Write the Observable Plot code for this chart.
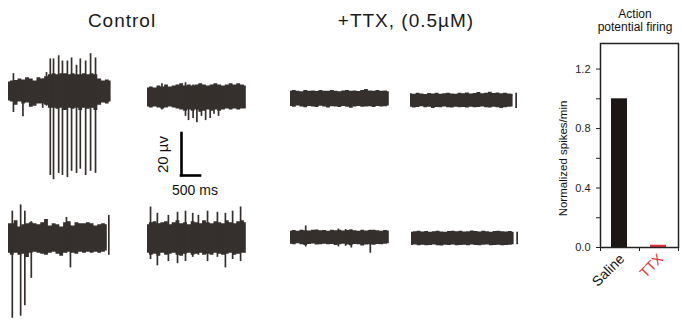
<!DOCTYPE html>
<html><head><meta charset="utf-8">
<script src="https://cdn.jsdelivr.net/npm/d3@7"></script>
<script src="https://cdn.jsdelivr.net/npm/@observablehq/plot@0.6"></script>
<style>
html,body{margin:0;padding:0;background:#fff;}
#fig{position:relative;width:682px;height:320px;overflow:hidden;font-family:"Liberation Sans",Arial,Helvetica,sans-serif;color:#1a1a1a;}
.abs{position:absolute;}
.title{font-size:19px;letter-spacing:1px;line-height:19px;text-align:center;white-space:nowrap;}
</style></head><body><div id="fig"></div>
<script>
// ---------------- DATA ----------------
const STEP_MS = 100;              // sampling step of the envelope arrays (ms)
const scaleBarUV = 20, scaleBarMS = 500;

// Control, top-left
const ctrlA_hi = [4.5,5,5.2,6,5.5,6.5,6,5,6.5,6,7,8,8.5,8,8.5,8.5,8,8.5,8,8,8.5,8,8.5,8,6,5,5.5,5];
const ctrlA_lo = [-4.5,-5,-6.5,-5,-6,-5.5,-7.5,-7,-6,-6,-6.5,-8,-8,-8.5,-8,-9,-8,-8.5,-8,-9,-8,-8.5,-8,-9,-6.5,-5.5,-6,-5];
const ctrlA_spikes = [[130,-10,8.5],[380,-12,5],[900,-8,6],[1000,-7,9],
  [1100,-40,15.5],[1185,-42,15.5],[1320,-39,17],[1420,-40,14.5],[1550,-41,14.5],[1660,-38,16],
  [1790,-39,12.5],[1890,-37,15.5],[2030,-40,14.5],[2160,-38,18],[2290,-39,16]];
// Control, top-right
const ctrlB_hi = [4.5,5,4.5,5.5,5,6,5,5.5,6,6.5,5.5,6,5.5,6,6.5,6,5.5,6,6.5,6,5.5,6,6.5,6,6.5,6,5.5];
const ctrlB_lo = [-4.5,-5,-4.5,-5,-5.5,-5,-4.5,-5,-5.5,-6,-6.5,-6,-6.5,-6,-7,-6.5,-6,-6.5,-6,-6.5,-6,-5.5,-6,-5.5,-6,-5.5,-5.5];
const ctrlB_spikes = [[380,-6,6.5],[1000,-9,7],[1080,-11,5],[1200,-10,6],[1300,-12,5],[1420,-9,6],[1530,-11,5],[1650,-10,5],[1750,-8,6],[1870,-9,5]];
// TTX, top-left
const ttxA_hi = [3.5,3.8,3.5,3.2,3.8,3.5,3.6,3.3,3.8,3.5,3.4,3.8,3.5,3.2,3.6,3.8,3.4,3.6,3.3,3.8,4.3,3.6,3.4,3.8,3.5,3.6,3.2];
const ttxA_lo = [-3.8,-4.2,-3.6,-4,-4.4,-3.8,-4,-4.3,-3.7,-4.1,-4.5,-3.9,-4,-4.3,-3.8,-4.2,-4.6,-4,-3.8,-4.2,-4,-3.9,-4.3,-3.8,-4.1,-3.9,-3.6];
const ttxA_spikes = [];
// TTX, top-right
const ttxB_hi = [3.2,3,3.4,3.1,2.8,3.3,3.1,3.4,3,3.2,3.5,3.1,3,3.4,3.2,3.6,3.1,3.3,3.8,3.2,3.5,3.9,3.3,3.6,3.2,3.5,3.1,3];
const ttxB_lo = [-3.2,-3.6,-3.3,-3,-3.5,-3.2,-3.8,-3.3,-3.4,-3.1,-3.5,-3.6,-3.2,-3.4,-3.3,-3.6,-3.2,-3.5,-3.3,-3.1,-3.4,-3.6,-3.2,-3.5,-3.8,-3.4,-3.2,-3.1];
const ttxB_spikes = [[2780,-3.8,3.5]];
// Control, bottom-left
const ctrlC_hi = [7,7,8.5,5.5,6.5,7,7.5,7,6.5,7.5,9,6,7,6.5,5.5,7.5,8,6,7.5,7,7,7.5,7,6,6.5,7,6.5];
const ctrlC_lo = [-7,-8,-7,-8,-7.5,-9,-7,-6.5,-7,-7.5,-8,-7,-6.5,-7.5,-8.5,-7,-6.5,-7,-7.5,-6.5,-7,-6.5,-7,-6.5,-7,-6.5,-6];
const ctrlC_spikes = [[100,-38,13],[320,-37,16],[430,-32,13],[600,-19,8],[1525,-7,10],[1630,-14,6],[2640,-8,11]];
// Control, bottom-right
const ctrlD_hi = [6.5,7.5,8,7,7.5,8,6.5,7.5,8.5,7,7.5,6.5,8,7.5,7,8.5,7.5,7,8,7.5,7,8.5,7.5,7,8,8.5,7.5];
const ctrlD_lo = [-7,-8,-7.5,-8.5,-7,-8,-7.5,-7,-8,-8.5,-7.5,-7,-8,-7.5,-7,-8,-7.5,-8,-7,-7.5,-8,-7.5,-7,-8,-7.5,-7,-7];
const ctrlD_spikes = [[80,-10,15],[260,-13,12],[550,-11,11],[790,-12,12.5],[1000,-11,13],[1190,-9,12],[1340,-8,11],[1580,-11,13],[1840,-9,12.5],[2050,-14,12],[2240,-10,13],[2450,-11,15]];
// TTX, bottom-left
const ttxC_hi = [3,3.3,3,3.5,3.2,3.1,3.4,3.6,3.2,3.3,3,3.4,3.2,3.5,3.1,3.3,3.6,3.2,3,3.4,3.1,3.3,3.5,3.2,3,3.3,3.1];
const ttxC_lo = [-3.2,-3.5,-3,-3.4,-3.8,-3.3,-3.1,-3.6,-3.4,-3.2,-3.5,-3.3,-3.8,-3.4,-3.2,-3.6,-3.9,-3.3,-3.5,-4,-3.6,-3.4,-3.7,-3.3,-3.5,-3.2,-3];
const ttxC_spikes = [[400,-4.5,5.5],[1260,-4.5,4],[1450,-4.2,3.8],[1600,-5,3.6],[2100,-7.5,3.5]];
// TTX, bottom-right
const ttxD_hi = [3,3.2,3.5,3.1,3.3,3,3.2,3.4,3.1,3,3.3,3.5,3.2,3.4,3.1,3.2,3.6,3.3,3.1,3.4,3.2,3,3.3,3.5,3.2,3.1,3.3,3];
const ttxD_lo = [-3.3,-3.1,-3.4,-3.2,-3.5,-3.3,-3.1,-3.4,-3.6,-3.2,-3.3,-3.1,-3.5,-3.3,-3.2,-3.4,-3.1,-3.3,-3.5,-3.2,-3.1,-3.4,-3.3,-3.2,-3.5,-3.3,-3.2,-3];
const ttxD_spikes = [[2780,-3,3]];

// Bar chart
const groups = ["Saline", "TTX"];
const spikesPerMin = [1.0, 0.015];
const yTicks = [0, 0.2, 0.4, 0.6, 0.8, 1.0, 1.2];

// ---------------- STYLE / LAYOUT ----------------
const TRACE = "#35302d";
const barFill = ["#1c1714", "#e52d3c"];
const labelFill = ["#111111", "#e8343f"];
const MS_PER_PX = 500 / 19, PX_PER_UV = 42 / 20;
const TW = 124, TH = 200, TB = 100;
const traces = [
  {hi: ctrlA_hi, lo: ctrlA_lo, sp: ctrlA_spikes, left: 8,   base: 91},
  {hi: ctrlB_hi, lo: ctrlB_lo, sp: ctrlB_spikes, left: 147, base: 97},
  {hi: ttxA_hi,  lo: ttxA_lo,  sp: ttxA_spikes,  left: 290, base: 97.5},
  {hi: ttxB_hi,  lo: ttxB_lo,  sp: ttxB_spikes,  left: 410, base: 99.5},
  {hi: ctrlC_hi, lo: ctrlC_lo, sp: ctrlC_spikes, left: 8,   base: 238},
  {hi: ctrlD_hi, lo: ctrlD_lo, sp: ctrlD_spikes, left: 147, base: 238},
  {hi: ttxC_hi,  lo: ttxC_lo,  sp: ttxC_spikes,  left: 290, base: 236.5},
  {hi: ttxD_hi,  lo: ttxD_lo,  sp: ttxD_spikes,  left: 411, base: 237.5}
];

const fig = document.getElementById("fig");
function place(el, left, top) {
  const d = document.createElement("div");
  d.className = "abs"; d.style.left = left + "px"; d.style.top = top + "px";
  d.appendChild(el); fig.appendChild(d); return d;
}
const svgStyle = {background: "transparent", overflow: "visible", fontFamily: "'Liberation Sans', Arial, sans-serif"};

function tracePlot(hi, lo, spikes) {
  const band = hi.map((h, i) => ({t: i * STEP_MS, hi: h, lo: lo[i]}));
  const sp = spikes.map(([t, l, h]) => ({t, lo: l, hi: h}));
  return Plot.plot({
    width: TW, height: TH, margin: 0,
    x: {domain: [0, TW * MS_PER_PX], axis: null},
    y: {domain: [-(TH - TB) / PX_PER_UV, TB / PX_PER_UV], axis: null},
    style: svgStyle,
    marks: [
      Plot.areaY(band, {x: "t", y1: "lo", y2: "hi", curve: "step", fill: TRACE}),
      Plot.ruleX(sp, {x: "t", y1: "lo", y2: "hi", stroke: TRACE, strokeWidth: 1.7})
    ]
  });
}
for (const tr of traces) place(tracePlot(tr.hi, tr.lo, tr.sp), tr.left, tr.base - TB);

// scale bar
const sb = Plot.plot({
  width: 80, height: 80, margin: 0,
  x: {domain: [-31 * MS_PER_PX, 49 * MS_PER_PX], axis: null},
  y: {domain: [-25 / PX_PER_UV, 55 / PX_PER_UV], axis: null},
  style: svgStyle,
  marks: [
    Plot.ruleX([0], {y1: 0, y2: scaleBarUV, stroke: "#000", strokeWidth: 2.6, strokeLinecap: "square"}),
    Plot.ruleY([0], {x1: 0, x2: scaleBarMS, stroke: "#000", strokeWidth: 2.6, strokeLinecap: "square"}),
    Plot.text([`${scaleBarMS} ms`], {x: scaleBarMS / 2, y: 0, dx: 4, dy: 15.5, fontSize: 14, fill: "#111"}),
    Plot.text([`${scaleBarUV} µv`], {x: 0, y: scaleBarUV / 2, dx: -18, rotate: -90, fontSize: 15, fill: "#111"})
  ]
});
place(sb, 150, 120);

// bar chart
const barData = groups.map((g, i) => ({g, i, v: spikesPerMin[i], fill: barFill[i], lab: labelFill[i]}));
const bars = Plot.plot({
  width: 142, height: 282,
  marginLeft: 60, marginRight: 4, marginTop: 5, marginBottom: 73,
  x: {domain: [0, 2]},
  y: {domain: [0, 1.372]},
  color: {type: "identity"},
  style: {...svgStyle, fontSize: "11px", color: "#222"},
  marks: [
    Plot.rect(barData, {x1: "i", x2: d => d.i + 1, y1: 0, y2: "v", fill: "fill", insetLeft: 11, insetRight: 12}),
    Plot.frame({stroke: "#222", strokeWidth: 1.5}),
    Plot.axisY({ticks: yTicks, tickSize: 4, tickPadding: 6, label: null,
      tickFormat: d => (Math.round(d * 10) % 4 === 0 ? d.toFixed(1) : "")}),
    Plot.axisX({ticks: [0, 1, 2], tickSize: 4, tickFormat: () => "", label: null}),
    Plot.text(barData, {x: d => d.i + 0.5, y: 0, text: "g", fill: "lab", rotate: -45, textAnchor: "end", dx: 2, dy: 9, fontSize: 14}),
    Plot.text(["Normalized spikes/min"], {frameAnchor: "left", textAnchor: "middle", rotate: -90, dx: -37, dy: 13, fontSize: 11.5, fill: "#111"})
  ]
});
place(bars, 540, 38);

// titles
function title(text, cx, top, cls, extra) {
  const d = document.createElement("div");
  d.className = "abs " + cls;
  d.style.left = (cx - 150) + "px"; d.style.width = "300px"; d.style.top = top + "px";
  d.innerHTML = text;
  if (extra) Object.assign(d.style, extra);
  fig.appendChild(d);
}
title("Control", 122, 11, "title");
title("+TTX, (0.5µM)", 406, 11, "title");
title("Action<br>potential firing", 635, 8, "", {fontSize: "12px", lineHeight: "13px", textAlign: "center", color: "#111"});
</script></body></html>
